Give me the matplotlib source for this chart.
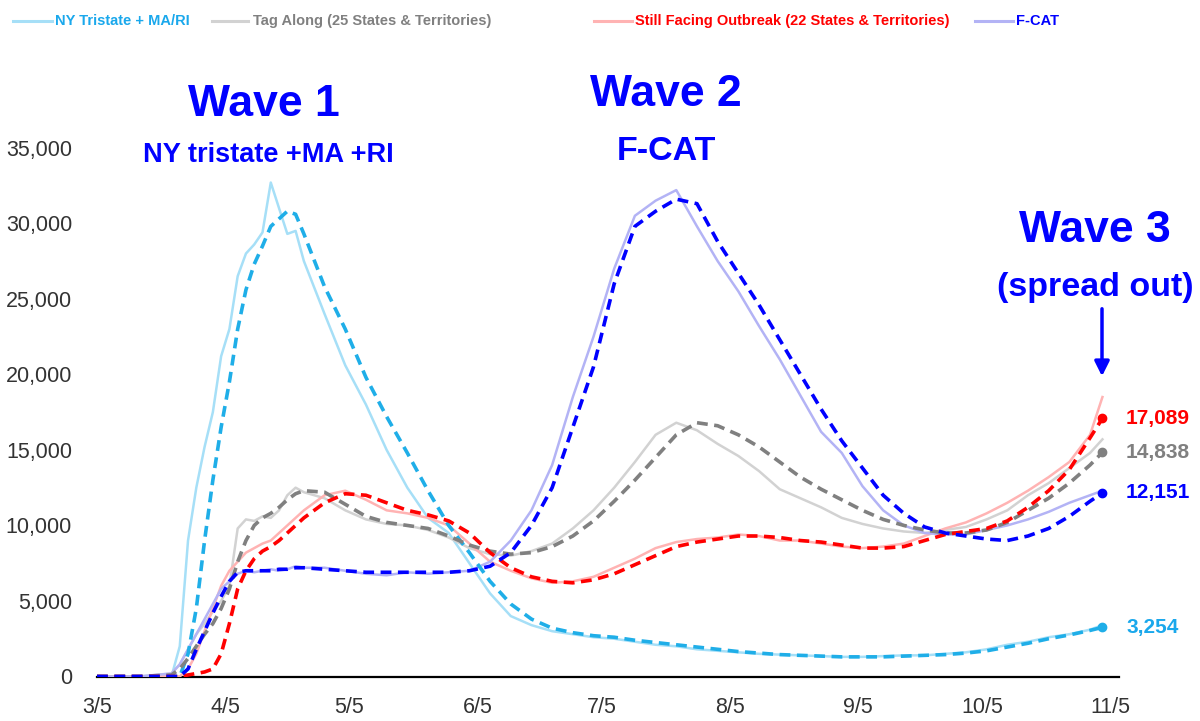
import matplotlib
matplotlib.use("Agg")
import matplotlib.pyplot as plt
from matplotlib.lines import Line2D
from matplotlib.ticker import FuncFormatter

plt.rcParams['font.family'] = ['Liberation Sans', 'DejaVu Sans']

# ---------------- data ----------------
# day offsets from 2020-03-05
days = [0, 10, 18, 20, 22, 24, 26, 28, 30, 32, 34, 36, 38, 40, 42, 44, 46, 48, 50,
        55, 60, 65, 70, 75, 80, 85, 90, 95, 100, 105, 110, 115, 120, 125, 130, 135,
        140, 145, 150, 155, 160, 165, 170, 175, 180, 185, 190, 195, 200, 205, 210,
        215, 220, 225, 230, 235, 240, 243]

ny_raw = [0, 0, 0, 2000, 9000, 12500, 15200, 17500, 21200, 23000, 26500, 28000, 28600,
          29400, 32700, 31000, 29300, 29500, 27500, 24000, 20600, 18000, 15000, 12500,
          10500, 9500, 7500, 5500, 4000, 3400, 3000, 2800, 2600, 2500, 2300, 2100, 2000,
          1800, 1700, 1600, 1500, 1450, 1400, 1350, 1300, 1300, 1350, 1400, 1400, 1500,
          1600, 1800, 2100, 2300, 2600, 2800, 3100, 3400]
ny_avg = [0, 0, 0, 0, 1500, 4500, 9000, 13000, 16500, 19500, 23000, 25600, 27300, 28500,
          29800, 30300, 30800, 30600, 29300, 25800, 23000, 19800, 17200, 14800, 12300,
          10000, 8200, 6300, 4800, 3800, 3200, 2900, 2700, 2600, 2400, 2250, 2100, 1950,
          1800, 1650, 1550, 1450, 1400, 1350, 1300, 1300, 1300, 1350, 1400, 1450, 1550,
          1700, 1950, 2200, 2500, 2750, 3050, 3254]

tag_raw = [0, 0, 200, 800, 1800, 2800, 3500, 4300, 5000, 6000, 9800, 10400, 10300, 10600,
           10500, 11000, 12000, 12500, 12200, 11800, 11000, 10400, 10100, 10000, 9700,
           9200, 8500, 8100, 8000, 8300, 8800, 9800, 11000, 12500, 14200, 16000, 16800,
           16300, 15400, 14600, 13600, 12400, 11800, 11200, 10500, 10100, 9800, 9600,
           9500, 9700, 9900, 10400, 11000, 12000, 12800, 13800, 14800, 15700]
tag_avg = [0, 0, 100, 500, 1200, 2000, 2800, 3500, 4500, 5800, 7600, 9000, 10000, 10500,
           10800, 11200, 11700, 12100, 12300, 12200, 11400, 10600, 10200, 10000, 9800,
           9300, 8700, 8300, 8100, 8200, 8600, 9300, 10300, 11600, 13000, 14500, 16000,
           16800, 16600, 16000, 15200, 14200, 13200, 12400, 11700, 11000, 10400, 10000,
           9700, 9500, 9500, 9700, 10200, 11000, 11800, 12800, 14000, 14838]

out_raw = [0, 0, 0, 0, 500, 1500, 3000, 4500, 6000, 7000, 7600, 8200, 8500, 8800, 9000,
           9500, 10000, 10500, 11000, 12000, 12300, 11700, 11000, 10800, 10500, 10000,
           8800, 7600, 7000, 6500, 6200, 6300, 6600, 7200, 7800, 8500, 8900, 9100, 9200,
           9400, 9300, 9000, 9000, 8800, 8600, 8500, 8600, 8800, 9300, 9800, 10200, 10800,
           11500, 12300, 13200, 14200, 16000, 18500]
out_avg = [0, 0, 0, 0, 100, 200, 300, 500, 1500, 3500, 5800, 7000, 7800, 8300, 8600,
           9000, 9500, 10000, 10500, 11500, 12100, 12000, 11500, 11000, 10700, 10300,
           9500, 8200, 7200, 6600, 6300, 6200, 6400, 6800, 7400, 8000, 8600, 8900, 9100,
           9300, 9300, 9200, 9000, 8900, 8700, 8500, 8500, 8600, 9000, 9400, 9600, 9800,
           10300, 11200, 12300, 13700, 15800, 17089]

fcat_raw = [0, 0, 200, 800, 1800, 2800, 3800, 4800, 5800, 6300, 6800, 7000, 6900, 7000,
            7100, 7000, 7100, 7300, 7200, 7200, 7000, 6800, 6700, 6900, 6800, 6900, 7000,
            7600, 9000, 11000, 14000, 18500, 22500, 27000, 30500, 31500, 32200, 29800,
            27500, 25500, 23200, 21000, 18600, 16200, 14800, 12600, 11000, 10000, 9500,
            9400, 9400, 9700, 10000, 10400, 10900, 11500, 12000, 12300]
fcat_avg = [0, 0, 0, 0, 500, 1800, 3000, 4200, 5300, 6300, 6900, 7000, 7000, 7000, 7000,
            7100, 7100, 7200, 7200, 7100, 7000, 6900, 6900, 6900, 6900, 6900, 7000, 7300,
            8200, 10000, 12500, 16500, 20500, 26000, 29800, 30800, 31600, 31300, 28800,
            26700, 24600, 22300, 20000, 17700, 15600, 13800, 12000, 10800, 9900, 9500,
            9300, 9100, 9000, 9300, 9800, 10600, 11600, 12151]

legend_labels = ["NY Tristate + MA/RI", "Tag Along (25 States & Territories)",
                 "Still Facing Outbreak (22 States & Territories)", "F-CAT"]
end_labels = ["3,254", "14,838", "17,089", "12,151"]
tick_days = [0, 31, 61, 92, 122, 153, 184, 214, 245]
tick_labels = ["3/5", "4/5", "5/5", "6/5", "7/5", "8/5", "9/5", "10/5", "11/5"]

# ---------------- styles ----------------
raw_colors = ["#A6DFF7", "#D2D2D2", "#FFB3B3", "#B3B3F5"]
avg_colors = ["#1FAEE8", "#808080", "#FF0000", "#0000FF"]
text_colors = ["#1AA8EC", "#808080", "#FF0000", "#0000FF"]

W, H = 1200, 721
fig = plt.figure(figsize=(W / 100, H / 100), dpi=100)
ax = fig.add_axes([97 / W, (H - 676.5) / H, 1022 / W, 528.7 / H])

raws = [ny_raw, tag_raw, out_raw, fcat_raw]
avgs = [ny_avg, tag_avg, out_avg, fcat_avg]

for r, c in zip(raws, raw_colors):
    ax.plot(days, r, color=c, lw=1.8, solid_joinstyle='round', zorder=2)
for a, c in zip(avgs, avg_colors):
    ax.plot(days, a, color=c, lw=2.6, dashes=(3, 1.8), zorder=3)
    ax.plot(days[-1], a[-1], 'o', color=c, ms=6, zorder=4)

ax.set_xlim(0, 247)
ax.set_ylim(0, 35000)
ax.set_yticks(range(0, 35001, 5000))
ax.yaxis.set_major_formatter(FuncFormatter(lambda v, p: f"{int(v):,}"))
ax.set_xticks(tick_days)
ax.set_xticklabels(tick_labels)
ax.tick_params(axis='y', length=0, pad=18, labelsize=15.5, labelcolor='#333333')
ax.tick_params(axis='x', length=0, pad=15, labelsize=15.5, labelcolor='#333333')
for s in ['top', 'right', 'left']:
    ax.spines[s].set_visible(False)
ax.spines['bottom'].set_color('black')
ax.spines['bottom'].set_linewidth(1.6)
ax.spines['bottom'].set_zorder(1)

# end labels
for a, lab, c in zip(avgs, end_labels, text_colors):
    ax.annotate(lab, xy=(days[-1], a[-1]), xytext=(17, 0), textcoords='offset points',
                ha='left', va='center', color=c, fontsize=15, fontweight='bold',
                annotation_clip=False)

# legend (manual placement across the top)
handle_x = [(13, 52), (212, 248), (594, 632), (975, 1013)]
text_x = [55, 253, 635, 1016]
ly = 1 - 21 / H
for (x0, x1), tx, lab, rc, tc in zip(handle_x, text_x, legend_labels, raw_colors, text_colors):
    fig.add_artist(Line2D([x0 / W, x1 / W], [ly, ly], color=rc, lw=2.2,
                          transform=fig.transFigure))
    fig.text(tx / W, ly, lab, ha='left', va='center', color=tc, fontsize=10.5,
             fontweight='bold')

def ftext(x, y, s, size):
    fig.text(x / W, 1 - y / H, s, ha='center', va='center', color='#0000FF',
             fontsize=size, fontweight='bold')

ftext(264, 104, "Wave 1", 32)
ftext(268, 155, "NY tristate +MA +RI", 19.5)
ftext(666, 95, "Wave 2", 32)
ftext(666, 152, "F-CAT", 24.5)
ftext(1095, 230, "Wave 3", 32)
ftext(1095, 287, "(spread out)", 24.5)

fig.add_artist(matplotlib.patches.FancyArrowPatch(
    (1102 / W, 1 - 306 / H), (1102 / W, 1 - 379 / H), transform=fig.transFigure,
    arrowstyle='-|>', mutation_scale=22, color='#0000FF', lw=2.5))

fig.savefig("out.png", dpi=100)
